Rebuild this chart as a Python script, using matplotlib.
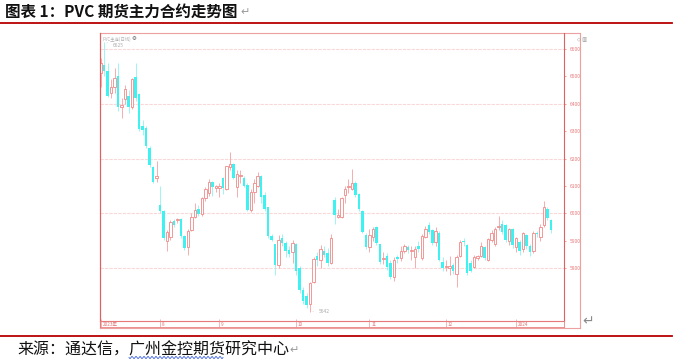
import numpy as np
import matplotlib.pyplot as plt
from matplotlib.lines import Line2D

plt.rcParams['font.family'] = ['Noto Sans CJK SC', 'DejaVu Sans']

# PVC 主连日线 (开, 高, 低, 收) —— 从图上估读
opens = [6511, 6542, 6521, 6440, 6462, 6503, 6387, 6416, 6428, 6387,
         6499, 6436, 6319, 6313, 6240, 6170, 6128, 6032, 6009, 5900,
         5913, 5973, 5975, 5978, 5917, 5879, 5939, 5988, 6018, 5998,
         6055, 6073, 6113, 6094, 6092, 6128, 6088, 6170, 6179, 6095,
         6135, 6128, 6104, 6012, 6080, 6100, 6136, 6067, 6022, 5917,
         5888, 5812, 5909, 5891, 5866, 5860, 5888, 5800, 5722, 5700,
         5668, 5751, 5845, 5830, 5862, 5857, 5818, 6049, 5988, 5988,
         6067, 6095, 6088, 6112, 6071, 6010, 5921, 5878, 5913, 5949,
         5888, 5834, 5845, 5818, 5769, 5840, 5836, 5864, 5878, 5864,
         5842, 5880, 5836, 5915, 5958, 5939, 5897, 5930, 5824, 5805,
         5800, 5812, 5779, 5845, 5900, 5885, 5818, 5806, 5838, 5845,
         5876, 5830, 5903, 5888, 5950, 5961, 5958, 5900, 5942, 5879,
         5897, 5869, 5921, 5881, 5864, 5930, 5915, 5958, 6018, 5976]
highs = [6566, 6625, 6548, 6490, 6530, 6548, 6420, 6470, 6450, 6495,
         6548, 6440, 6340, 6320, 6245, 6175, 6190, 6100, 6012, 5940,
         5975, 5980, 5985, 5982, 5920, 5945, 6000, 6040, 6030, 6060,
         6095, 6125, 6118, 6105, 6110, 6132, 6175, 6223, 6185, 6160,
         6160, 6135, 6110, 6090, 6125, 6150, 6140, 6080, 6025, 5925,
         5890, 5920, 5925, 5900, 5880, 5905, 5892, 5810, 5730, 5710,
         5750, 5840, 5860, 5885, 5880, 5875, 5925, 6060, 6015, 6060,
         6100, 6125, 6161, 6118, 6075, 6012, 5930, 5945, 5950, 5955,
         5890, 5860, 5855, 5830, 5840, 5850, 5880, 5890, 5885, 5880,
         5880, 5900, 5925, 5955, 5970, 5945, 5950, 5935, 5840, 5830,
         5845, 5820, 5850, 5905, 5910, 5890, 5830, 5850, 5850, 5895,
         5880, 5910, 5940, 5950, 5990, 5975, 5962, 5948, 5948, 5915,
         5905, 5932, 5925, 5890, 5935, 5935, 5960, 6044, 6025, 5980]
lows = [6462, 6500, 6425, 6420, 6440, 6375, 6350, 6400, 6365, 6380,
        6410, 6300, 6285, 6240, 6170, 6110, 6115, 6000, 5905, 5864,
        5905, 5950, 5965, 5910, 5865, 5850, 5935, 5985, 5990, 5990,
        6045, 6065, 6065, 6080, 6060, 6070, 6085, 6160, 6125, 6060,
        6110, 6095, 6008, 6005, 6040, 6095, 6040, 6010, 5912, 5900,
        5774, 5800, 5880, 5840, 5840, 5820, 5775, 5710, 5670, 5655,
        5642, 5745, 5810, 5800, 5840, 5810, 5815, 5960, 5985, 5985,
        6040, 6075, 6085, 6060, 6010, 5930, 5870, 5860, 5900, 5885,
        5815, 5815, 5795, 5760, 5755, 5820, 5825, 5855, 5855, 5830,
        5800, 5860, 5830, 5910, 5925, 5885, 5880, 5825, 5790, 5790,
        5775, 5780, 5730, 5840, 5880, 5775, 5785, 5800, 5830, 5840,
        5830, 5825, 5895, 5880, 5940, 5925, 5895, 5885, 5875, 5860,
        5850, 5860, 5870, 5845, 5855, 5915, 5900, 5950, 5975, 5930]
closes = [6550, 6521, 6430, 6462, 6493, 6387, 6396, 6453, 6390, 6489,
          6420, 6308, 6304, 6247, 6177, 6116, 6135, 6009, 5909, 5931,
          5970, 5958, 5979, 5917, 5873, 5937, 5988, 6012, 5998, 6055,
          6088, 6113, 6097, 6100, 6100, 6092, 6172, 6180, 6128, 6144,
          6140, 6100, 6012, 6080, 6112, 6136, 6061, 6018, 5917, 5905,
          5812, 5903, 5893, 5864, 5852, 5891, 5790, 5720, 5680, 5665,
          5745, 5834, 5830, 5870, 5850, 5820, 5909, 5994, 5994, 6055,
          6088, 6100, 6112, 6067, 6015, 5933, 5878, 5921, 5942, 5891,
          5824, 5838, 5806, 5769, 5830, 5833, 5864, 5881, 5868, 5868,
          5870, 5870, 5917, 5945, 5933, 5893, 5937, 5832, 5800, 5810,
          5810, 5791, 5842, 5897, 5895, 5781, 5791, 5842, 5845, 5881,
          5836, 5906, 5927, 5942, 5955, 5933, 5905, 5942, 5885, 5909,
          5864, 5927, 5881, 5860, 5927, 5925, 5952, 6024, 5982, 5939]

price_ticks = [5800, 5900, 6000, 6100, 6200, 6300, 6400, 6500, 6600]
grid_levels = [5800, 6000, 6200, 6400, 6600]
month_idx = [0, 17, 34, 56, 77, 99, 119]
month_txt = ['2023年', '8', '9', '10', '11', '12', '2024']

W, H = 688, 360
def fx(px):
    return px / W
def fy(py):
    return 1 - py / H

fig = plt.figure(figsize=(6.88, 3.6), dpi=100)

# 标题和红线
fig.text(fx(5), fy(12), '图表 1：PVC 期货主力合约走势图', fontsize=11.2, fontweight='bold',
         va='center', ha='left', color='#111111')
fig.text(fx(240), fy(12), '↵', fontsize=8, va='center', color='#9a9a9a', family=['DejaVu Sans'])
fig.add_artist(Line2D([0, fx(672)], [fy(23), fy(23)], color='#b80000', lw=1.3))
fig.add_artist(Line2D([0, fx(672)], [fy(336), fy(336)], color='#b80000', lw=1.3))

fig.text(fx(17), fy(350), '来源：通达信，广州金控期货研究中心', fontsize=11.5,
         va='center', ha='left', color='#111111')
fig.text(fx(289), fy(350), '↵', fontsize=8, va='center', color='#9a9a9a', family=['DejaVu Sans'])
wx = np.linspace(129, 223, 300)
wy = 357.5 + 1.0 * np.sin(2 * np.pi * (wx - 129) / 4.0)
fig.add_artist(Line2D(fx(wx), fy(wy), color='#3a5ee0', lw=0.6))
fig.text(fx(582), fy(321), '↵', fontsize=10, va='center', color='#8a8a8a', family=['DejaVu Sans'])

# 外框
frame = fig.add_axes([fx(100), fy(328), fx(580) - fx(100), fy(33) - fy(328)])
frame.set_xticks([])
frame.set_yticks([])
frame.patch.set_alpha(0)
for s in frame.spines.values():
    s.set_color('#eea0a0')
    s.set_linewidth(0.8)
frame.spines['left'].set_color('#e06060')

# K线主图
ax = fig.add_axes([fx(100), fy(321), fx(564) - fx(100), fy(33) - fy(321)])
ax.patch.set_alpha(0)
n = len(closes)
x = np.arange(n)
o = np.array(opens)
c = np.array(closes)
hi = np.array(highs)
lo = np.array(lows)
up = c >= o

for lv in grid_levels:
    ax.axhline(lv, color='#fad8d8', lw=0.8, ls=(0, (3, 1)), zorder=0)

ax.vlines(x[up], lo[up], hi[up], color='#f4a0a0', lw=0.6, zorder=1)
ax.vlines(x[~up], lo[~up], hi[~up], color='#8ff3f3', lw=0.6, zorder=1)
body = np.maximum(np.abs(c - o), 3)
ax.bar(x[up], body[up], bottom=np.minimum(o, c)[up], width=0.72,
       facecolor='white', edgecolor='#f08888', linewidth=0.6, zorder=2)
ax.bar(x[~up], body[~up], bottom=np.minimum(o, c)[~up], width=0.72,
       color='#3ff2f2', linewidth=0, zorder=2)

ax.set_xlim(-0.2, 132.75)
ax.set_ylim(5607.7, 6658.4)
ax.set_xticks([])
ax.yaxis.tick_right()
ax.set_yticks(price_ticks)
ax.tick_params(axis='y', length=1.5, width=0.5, colors='#e87878', labelsize=3.5, pad=3)
for k in ['left', 'right', 'bottom']:
    ax.spines[k].set_color('#e06060')
    ax.spines[k].set_linewidth(0.8)
ax.spines['top'].set_visible(False)

# 最高/最低标注
imax = int(np.argmax(hi))
imin = int(np.argmin(lo))
ax.annotate(f'{hi[imax]}', xy=(imax, hi[imax]), xytext=(imax + 2.5, hi[imax] - 12),
            fontsize=3.5, color='#aaaaaa', va='center',
            arrowprops=dict(arrowstyle='-', color='#bbbbbb', lw=0.4))
ax.annotate(f'{lo[imin]}', xy=(imin, lo[imin]), xytext=(imin + 2.5, lo[imin]),
            fontsize=3.5, color='#aaaaaa', va='center',
            arrowprops=dict(arrowstyle='-', color='#bbbbbb', lw=0.4))

ax.text(0.006, 0.988, 'PVC主连(日线)', transform=ax.transAxes, fontsize=3.2,
        color='#b0b0b0', va='top', ha='left')
ax.text(0.068, 0.99, '⚙', transform=ax.transAxes, fontsize=4, color='#555555',
        va='top', ha='left', family=['DejaVu Sans'])
ax.text(1.05, 0.985, '◇ ▥', transform=ax.transAxes, fontsize=3.5, color='#888888',
        va='top', ha='right', family=['DejaVu Sans'])

# 日期条
dax = fig.add_axes([fx(100), fy(327), fx(564) - fx(100), fy(321) - fy(327)])
dax.patch.set_alpha(0)
dax.set_xlim(ax.get_xlim())
dax.set_ylim(0, 1)
dax.set_yticks([])
dax.set_xticks(month_idx)
dax.set_xticklabels([])
dax.tick_params(axis='x', direction='in', length=6, width=0.5, colors='#ee9a9a')
for k in dax.spines:
    dax.spines[k].set_color('#e88080')
    dax.spines[k].set_linewidth(0.6)
for m, t in zip(month_idx, month_txt):
    dax.text(m + 0.5, 0.5, t, fontsize=3.3, color='#e07070', va='center', ha='left')

fig.savefig('out.png', dpi=100)
